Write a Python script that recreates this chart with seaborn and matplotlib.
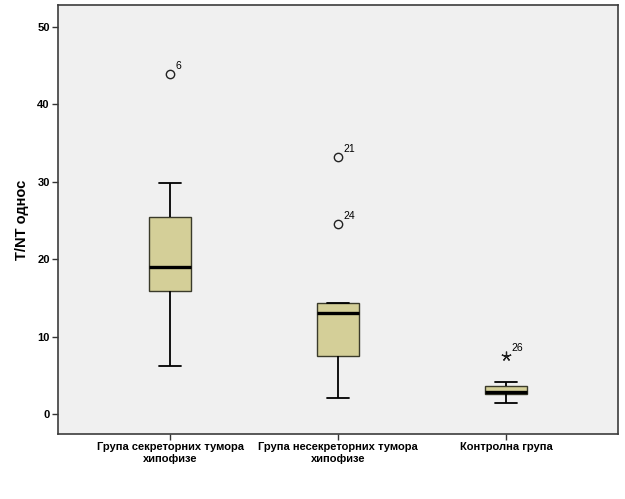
import numpy as np
import pandas as pd
import matplotlib
matplotlib.use("Agg")
import matplotlib.pyplot as plt
import seaborn as sns

groups = ["Група секреторних тумора\nхипофизе",
          "Група несекреторних тумора\nхипофизе",
          "Контролна група"]

# whisker low, q1, median, q3, whisker high
whisker_low = [6.2, 2.05, 1.4]
q1 = [15.9, 7.45, 2.55]
median = [19.0, 13.1, 2.9]
q3 = [25.4, 14.3, 3.6]
whisker_high = [29.8, 14.3, 4.15]

# outliers (circle) and extreme values (star)
out_group = [0, 1, 1, 2]
out_value = [43.9, 33.2, 24.6, 7.5]
out_case = ["6", "21", "24", "26"]
out_kind = ["o", "o", "o", "*"]

rows = []
for i, g in enumerate(groups):
    for v in (whisker_low[i], q1[i], median[i], q3[i], whisker_high[i]):
        rows.append({"group": g, "value": v})
df = pd.DataFrame(rows)

sns.set_style("white")
plt.rcParams["font.family"] = ["Liberation Sans", "DejaVu Sans"]

fig = plt.figure(figsize=(6.25, 4.99), dpi=100)
ax = fig.add_axes([0.093, 0.13, 0.896, 0.86])
ax.set_facecolor("#f0f0f0")

sns.boxplot(data=df, x="group", y="value", order=groups, whis=(0, 100),
            color="#d4cf98", saturation=1, width=0.25, linecolor="#3a3a2a",
            linewidth=1.0, showfliers=False, ax=ax,
            medianprops=dict(color="black", linewidth=2.4),
            whiskerprops=dict(color="black", linewidth=1.3),
            capprops=dict(color="black", linewidth=1.3),
            capwidths=0.13)

for gi, v, case, kind in zip(out_group, out_value, out_case, out_kind):
    if kind == "o":
        ax.plot(gi, v, marker="o", ms=6, mfc="none", mec="#222222", mew=1.0)
    else:
        ax.plot(gi, v, marker=(5, 2, 0), ms=7, mec="#222222", mew=0.9)
    ax.annotate(case, (gi, v), xytext=(3.5, 2), textcoords="offset points",
                fontsize=7.5, ha="left", va="bottom", color="black")

ax.set_xlim(-0.667, 2.667)
ax.set_ylim(-2.6, 52.85)
ax.set_yticks([0, 10, 20, 30, 40, 50])
ax.set_xlabel("")
ax.set_ylabel("T/NT однос", fontsize=10.5, fontweight="bold", labelpad=6,
              color="black")
ax.tick_params(axis="both", direction="out", length=4, width=1, color="#333333",
               labelsize=8, pad=2, bottom=True, left=True, labelcolor="black")
for lab in ax.get_xticklabels() + ax.get_yticklabels():
    lab.set_fontweight("bold")
for s in ax.spines.values():
    s.set_visible(True)
    s.set_color("#3c3c3c")
    s.set_linewidth(1.2)

fig.savefig("out.png", dpi=100, facecolor="white")
